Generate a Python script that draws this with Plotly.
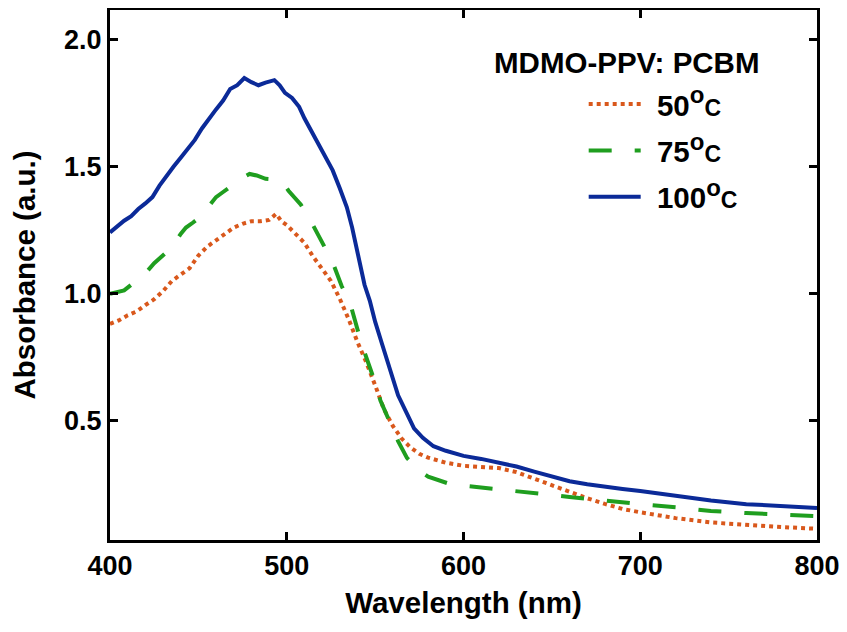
import plotly.graph_objects as go

# ---- data ----
wl_100 = [400, 404, 408, 412, 416, 420, 424, 428, 432, 436, 440, 444, 448, 452, 456,
          460, 464, 468, 472, 476, 480, 484, 488, 493, 496, 499, 503, 507, 510, 515,
          520, 526, 530, 534, 537, 540, 544, 547, 550, 554, 558, 563, 568, 572, 577,
          583, 590, 600, 610, 620, 630, 640, 650, 660, 670, 680, 690, 700, 720, 740,
          760, 780, 800]
abs_100 = [1.241, 1.265, 1.287, 1.305, 1.333, 1.355, 1.38, 1.425, 1.465, 1.50, 1.535, 1.57, 1.605, 1.65, 1.69,
           1.725, 1.76, 1.805, 1.82, 1.848, 1.832, 1.82, 1.83, 1.84, 1.82, 1.79, 1.77, 1.735, 1.69, 1.625,
           1.565, 1.485, 1.415, 1.34, 1.26, 1.165, 1.035, 0.972, 0.89, 0.80, 0.71, 0.60, 0.528, 0.47, 0.433,
           0.40, 0.382, 0.362, 0.35, 0.335, 0.32, 0.30, 0.28, 0.262, 0.25, 0.24, 0.232, 0.224, 0.205, 0.186,
           0.172, 0.163, 0.157]

wl_75 = [400, 404, 408, 412, 416, 420, 425, 430, 435, 440, 443, 447, 452, 456, 460,
         464, 468, 472, 476, 479, 483, 488, 492, 497, 501, 505, 508, 514, 520, 526,
         531, 536, 540, 543, 549, 553, 558, 563, 568, 575, 580, 592, 600, 610, 620,
         630, 640, 650, 660, 670, 680, 690, 700, 720, 740, 760, 780, 800]
abs_75 = [1.00, 1.005, 1.013, 1.035, 1.058, 1.08, 1.12, 1.15, 1.182, 1.235, 1.26, 1.28, 1.307, 1.345, 1.38,
          1.40, 1.42, 1.445, 1.46, 1.471, 1.465, 1.452, 1.45, 1.445, 1.405, 1.375, 1.35, 1.281, 1.20, 1.123,
          1.031, 0.959, 0.86, 0.79, 0.67, 0.58, 0.50, 0.42, 0.354, 0.303, 0.28, 0.252, 0.245, 0.238, 0.232,
          0.225, 0.215, 0.208, 0.20, 0.192, 0.185, 0.178, 0.172, 0.16, 0.145, 0.137, 0.13, 0.125]

wl_50 = [400, 405, 410, 415, 420, 425, 430, 435, 440, 445, 450, 455, 460, 465, 470,
         475, 480, 485, 490, 494, 497, 500, 505, 510, 515, 520, 525, 530, 535, 540,
         545, 550, 555, 560, 565, 570, 575, 580, 590, 600, 610, 620, 630, 640, 650,
         660, 670, 680, 690, 700, 720, 740, 760, 780, 800]
abs_50 = [0.881, 0.895, 0.915, 0.93, 0.955, 0.978, 1.01, 1.05, 1.075, 1.10, 1.15, 1.185, 1.21, 1.235, 1.26,
          1.275, 1.285, 1.285, 1.29, 1.314, 1.285, 1.27, 1.235, 1.20, 1.145, 1.10, 1.05, 0.98, 0.90, 0.81,
          0.73, 0.64, 0.545, 0.48, 0.43, 0.395, 0.37, 0.355, 0.335, 0.323, 0.318, 0.314, 0.298, 0.272, 0.245,
          0.218, 0.195, 0.173, 0.153, 0.14, 0.117, 0.100, 0.090, 0.082, 0.075]

x_ticks = [400, 500, 600, 700, 800]
y_ticks = [0.5, 1.0, 1.5, 2.0]
y_tick_text = ["0.5", "1.0", "1.5", "2.0"]

FONT = "Liberation Sans, Arial, sans-serif"
FS = 27
FT = 29.5

def lab(t):
    return (f"&nbsp;<span style='font-size:11px'>&nbsp;</span>{t}"
            f"<sup><span style='font-size:24px'>o</span></sup><span style='font-size:23px'>C</span>")

fig = go.Figure()
fig.add_trace(go.Scatter(x=wl_50, y=abs_50, mode="lines", name=lab("50"), legendgroup="a",
                         line=dict(color="#d9581c", width=4, dash="4px,4px")))
fig.add_trace(go.Scatter(x=wl_75, y=abs_75, mode="lines", name=lab("75"), legendgroup="b",
                         line=dict(color="#1f9e1f", width=4, dash="23px,23px")))
fig.add_trace(go.Scatter(x=wl_100, y=abs_100, mode="lines", name=lab("100"), legendgroup="c",
                         line=dict(color="#0b2a98", width=4)))

axis_common = dict(showline=True, linewidth=3, linecolor="black", mirror="ticks",
                   ticks="inside", ticklen=8, tickwidth=3, tickcolor="black",
                   showgrid=False, zeroline=False, automargin=False,
                   tickfont=dict(family=FONT, size=FS, color="black", weight="bold"))

fig.update_xaxes(range=[400, 800], tickvals=x_ticks,
                 title=dict(text="<b>Wavelength (nm)</b>", font=dict(family=FONT, size=FT, color="black"), standoff=12),
                 **axis_common)
fig.update_yaxes(range=[0.031, 2.116], tickvals=y_ticks, ticktext=y_tick_text,
                 title=dict(text="<b>Absorbance (a.u.)</b>", font=dict(family=FONT, size=FT, color="black"), standoff=20),
                 **axis_common)

fig.add_annotation(text="<b>MDMO-PPV: PCBM</b>", xref="paper", yref="paper",
                   x=0.731, y=0.9, showarrow=False, xanchor="center", yanchor="middle",
                   font=dict(family=FONT, size=FT, color="black"))

fig.update_layout(
    width=839, height=624,
    margin=dict(l=102, r=30, t=2, b=92),
    paper_bgcolor="white", plot_bgcolor="white",
    showlegend=True,
    legend=dict(x=0.67, y=0.871, xanchor="left", yanchor="top", bgcolor="rgba(0,0,0,0)",
                font=dict(family=FONT, size=FT, color="black", weight="bold"),
                itemwidth=52, tracegroupgap=5),
)

fig.write_html("out.html")
